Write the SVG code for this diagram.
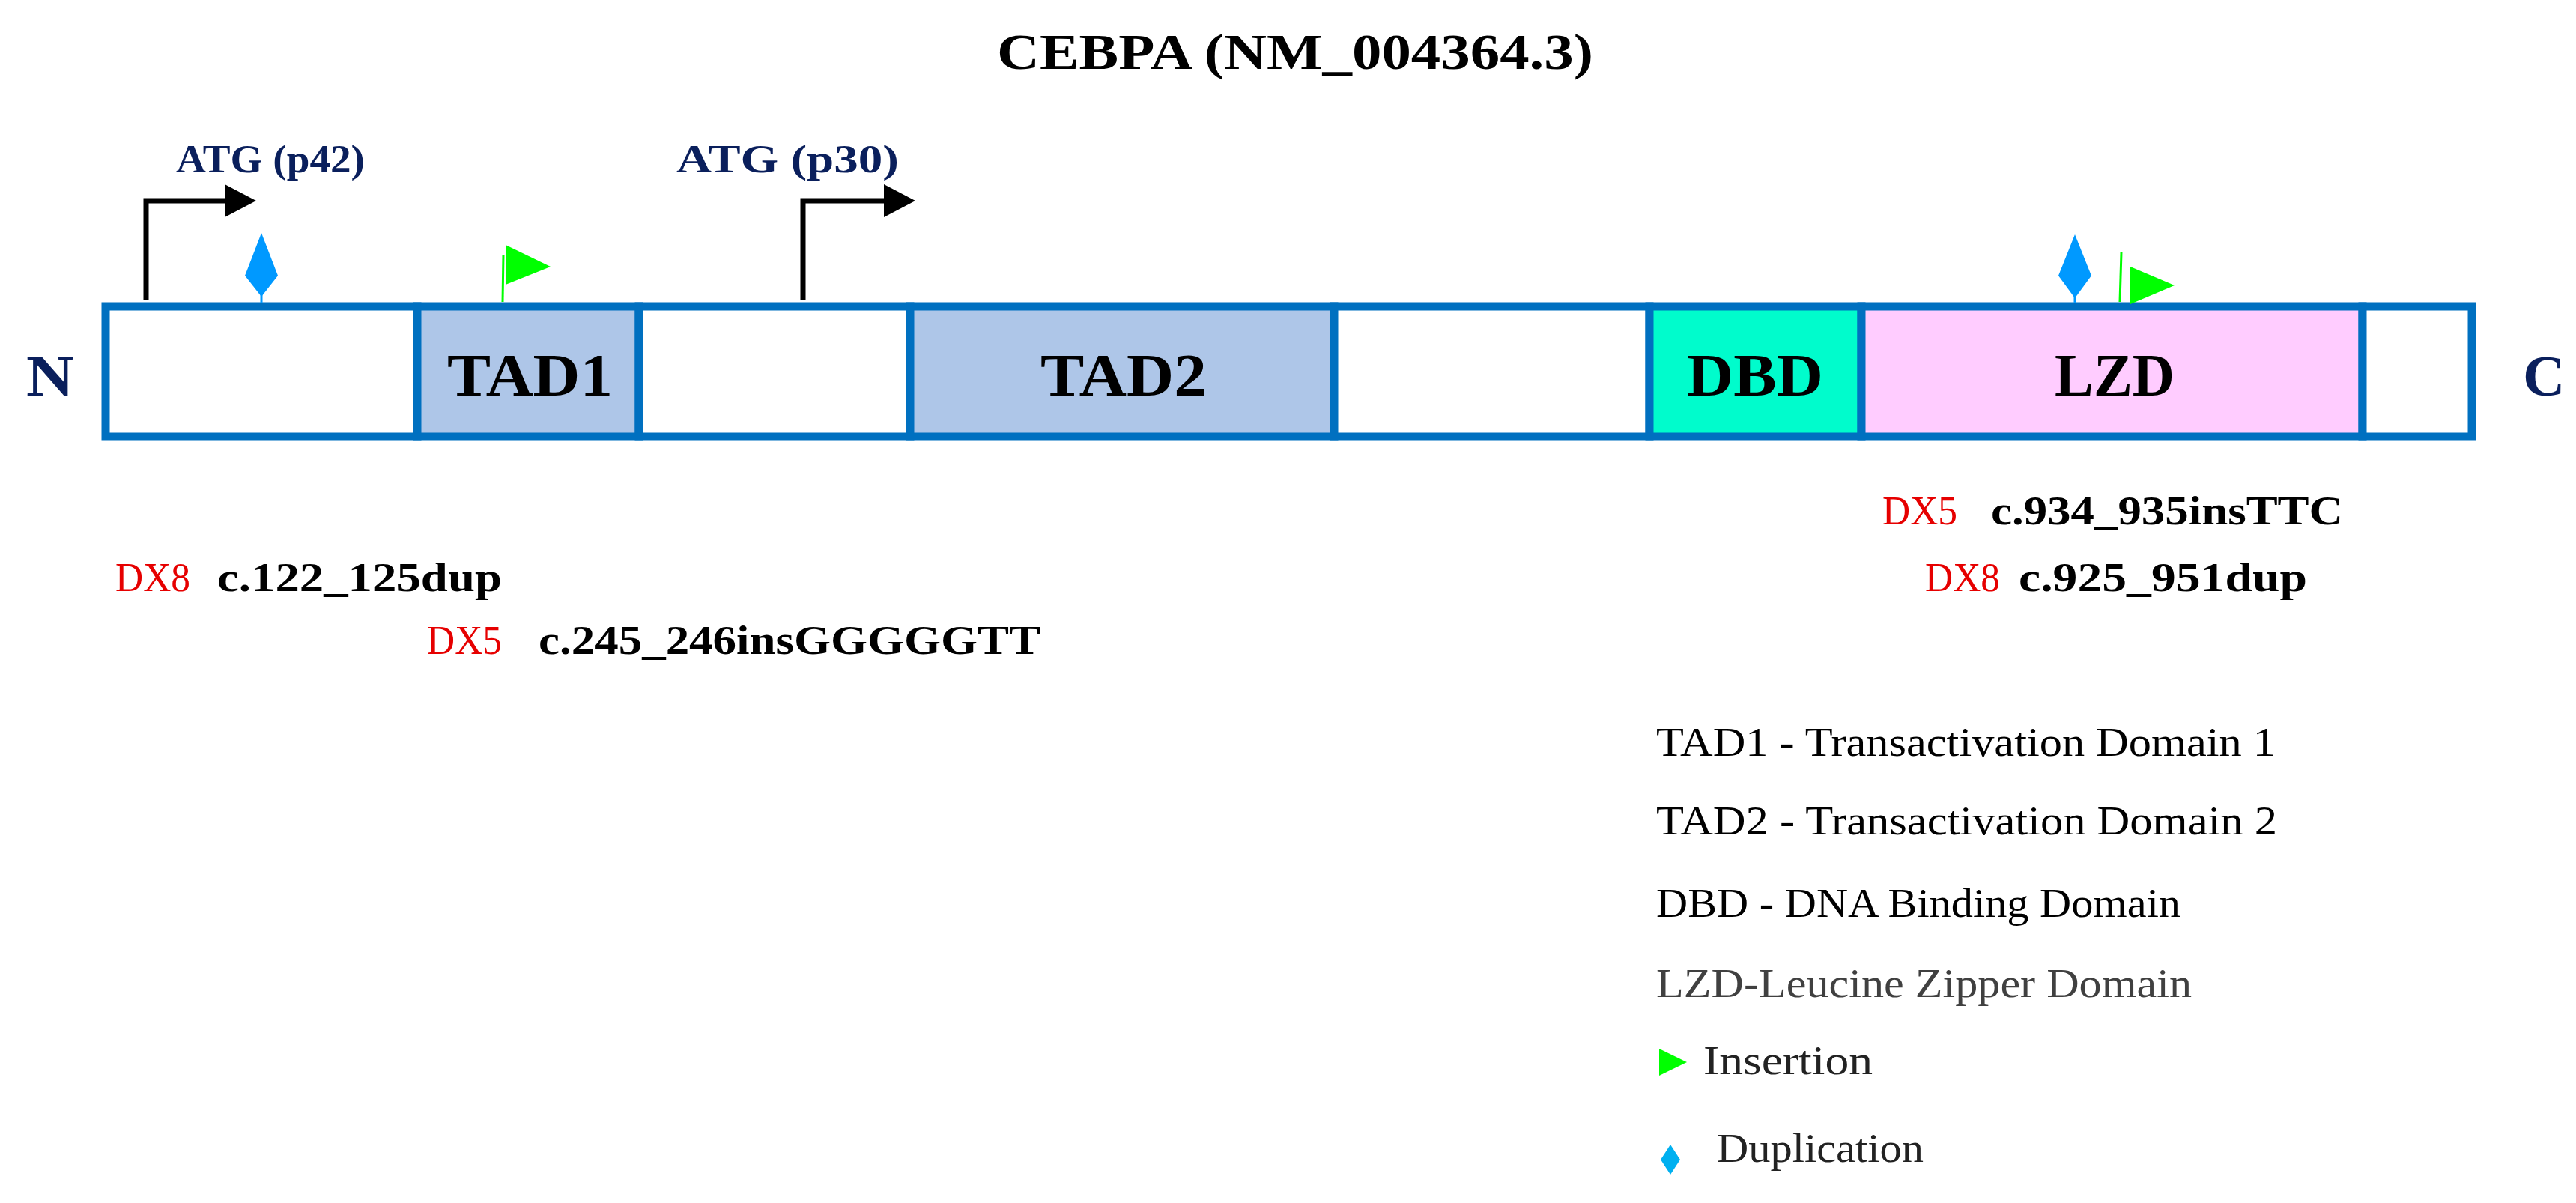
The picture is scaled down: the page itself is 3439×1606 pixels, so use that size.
<svg xmlns="http://www.w3.org/2000/svg" width="3439" height="1606" viewBox="0 0 3439 1606">
<style>
.b{font-family:"Liberation Serif",serif;font-weight:bold}
.n{font-family:"Liberation Serif",serif}
.dom{font-size:80px}
.navy{fill:#0a1f5c}
.red{fill:#e60000;font-family:"Liberation Serif",serif;font-size:54px}
.mut{font-size:54px}
.leg{font-size:54px}
.seg{stroke:#0070c0;stroke-width:11}
</style>
<rect width="3439" height="1606" fill="#fff"/>
<text class="b" x="1331" y="92" font-size="68" textLength="796" lengthAdjust="spacingAndGlyphs">CEBPA (NM_004364.3)</text>
<g id="protein">
<rect class="seg" x="141" y="409" width="416" height="174" fill="#fff"/>
<rect class="seg" x="557" y="409" width="296" height="174" fill="#aec6e8"/>
<rect class="seg" x="853" y="409" width="362" height="174" fill="#fff"/>
<rect class="seg" x="1215" y="409" width="566" height="174" fill="#aec6e8"/>
<rect class="seg" x="1781" y="409" width="421" height="174" fill="#fff"/>
<rect class="seg" x="2202" y="409" width="283" height="174" fill="#00fccc"/>
<rect class="seg" x="2485" y="409" width="669" height="174" fill="#ffccff"/>
<rect class="seg" x="3154" y="409" width="146" height="174" fill="#fff"/>
<text class="b dom" x="597" y="528" textLength="221" lengthAdjust="spacingAndGlyphs">TAD1</text>
<text class="b dom" x="1389" y="528" textLength="222" lengthAdjust="spacingAndGlyphs">TAD2</text>
<text class="b dom" x="2252" y="528" textLength="182" lengthAdjust="spacingAndGlyphs">DBD</text>
<text class="b dom" x="2743" y="528" textLength="160" lengthAdjust="spacingAndGlyphs">LZD</text>
<text class="b navy" x="35" y="528" font-size="78" textLength="64" lengthAdjust="spacingAndGlyphs">N</text>
<text class="b navy" x="3368" y="528" font-size="78">C</text>
</g>
<g id="atg">
<path d="M195 401 V268 H306" fill="none" stroke="#000" stroke-width="7"/>
<polygon points="300,246 342,268 300,290" fill="#000"/>
<path d="M1072 401 V268 H1182" fill="none" stroke="#000" stroke-width="7"/>
<polygon points="1180,246 1222,268 1180,290" fill="#000"/>
<text class="b navy" x="235" y="230" font-size="52" textLength="252" lengthAdjust="spacingAndGlyphs">ATG (p42)</text>
<text class="b navy" x="903" y="230" font-size="52" textLength="297" lengthAdjust="spacingAndGlyphs">ATG (p30)</text>
</g>
<g id="markers">
<polygon points="349,311 371,368 349,396 327,368" fill="#0099ff"/>
<line x1="349" y1="390" x2="349" y2="404" stroke="#0099ff" stroke-width="3"/>
<line x1="672" y1="340" x2="671" y2="403" stroke="#00ff00" stroke-width="3"/>
<polygon points="675,327 735,356 675,380" fill="#00ff00"/>
<polygon points="2770,313 2792,368 2770,398 2748,368" fill="#0099ff"/>
<line x1="2770" y1="392" x2="2770" y2="404" stroke="#0099ff" stroke-width="3"/>
<line x1="2832" y1="337" x2="2830" y2="403" stroke="#00ff00" stroke-width="3"/>
<polygon points="2844,356 2903,381 2844,406" fill="#00ff00"/>
</g>
<g id="mutations">
<text class="red" x="154" y="789" textLength="100" lengthAdjust="spacingAndGlyphs">DX8</text>
<text class="b mut" x="290" y="789" textLength="380" lengthAdjust="spacingAndGlyphs">c.122_125dup</text>
<text class="red" x="570" y="873" textLength="100" lengthAdjust="spacingAndGlyphs">DX5</text>
<text class="b mut" x="719" y="873" textLength="670" lengthAdjust="spacingAndGlyphs">c.245_246insGGGGGTT</text>
<text class="red" x="2513" y="700" textLength="100" lengthAdjust="spacingAndGlyphs">DX5</text>
<text class="b mut" x="2658" y="700" textLength="470" lengthAdjust="spacingAndGlyphs">c.934_935insTTC</text>
<text class="red" x="2570" y="789" textLength="100" lengthAdjust="spacingAndGlyphs">DX8</text>
<text class="b mut" x="2695" y="789" textLength="385" lengthAdjust="spacingAndGlyphs">c.925_951dup</text>
</g>
<g id="legend">
<text class="n leg" x="2211" y="1009" textLength="827" lengthAdjust="spacingAndGlyphs">TAD1 - Transactivation Domain 1</text>
<text class="n leg" x="2211" y="1114" textLength="829" lengthAdjust="spacingAndGlyphs">TAD2 - Transactivation Domain 2</text>
<text class="n leg" x="2211" y="1224" textLength="700" lengthAdjust="spacingAndGlyphs">DBD - DNA Binding Domain</text>
<text class="n leg" x="2211" y="1331" textLength="715" lengthAdjust="spacingAndGlyphs" fill="#404040">LZD-Leucine Zipper Domain</text>
<polygon points="2215,1400 2252,1418 2215,1436" fill="#00ff00"/>
<text class="n leg" x="2274" y="1434" textLength="226" lengthAdjust="spacingAndGlyphs" fill="#222">Insertion</text>
<polygon points="2230,1528 2243,1548 2230,1568 2217,1548" fill="#00b0f0"/>
<text class="n leg" x="2292" y="1551" textLength="276" lengthAdjust="spacingAndGlyphs" fill="#222">Duplication</text>
</g>
</svg>
